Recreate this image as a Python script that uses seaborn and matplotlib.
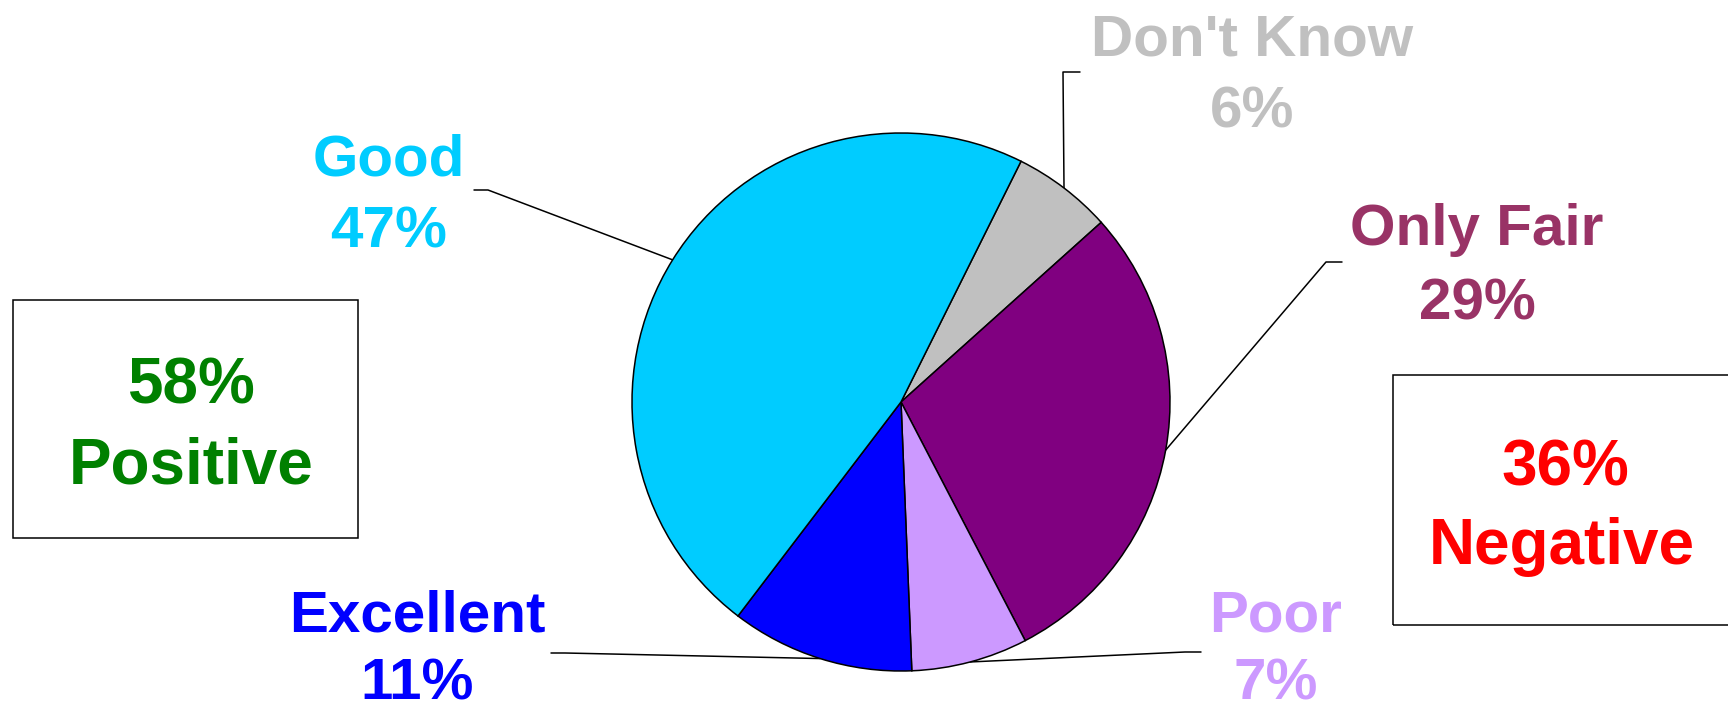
import numpy as np
import matplotlib
matplotlib.use("Agg")
import matplotlib.pyplot as plt
import seaborn as sns
from matplotlib.patches import Rectangle

# Data (clockwise from the top)
categories = ["Don't Know", "Only Fair", "Poor", "Excellent", "Good"]
shares = [6, 29, 7, 11, 47]
wedge_colors = ["#C0C0C0", "#800080", "#CC99FF", "#0000FF", "#00CCFF"]
label_colors = ["#C0C0C0", "#993366", "#CC99FF", "#0000FF", "#00CCFF"]
positive_share = 58
negative_share = 36

sns.set_theme(style="white")
plt.rcParams['font.family'] = ['Liberation Sans', 'DejaVu Sans']

W, H = 1728, 713
fig = plt.figure(figsize=(W / 100, H / 100), dpi=100)

# pie layout in pixels (top-left origin)
cx, cy, R = 901, 402, 269
L = 1.1
side = 2 * L * R
ax = fig.add_axes([(cx - side / 2) / W, (H - cy - side / 2) / H, side / W, side / H])

wedges, _ = ax.pie(shares, colors=sns.color_palette(wedge_colors), startangle=63.5,
                   counterclock=False, radius=1,
                   wedgeprops=dict(edgecolor="black", linewidth=1.1))
ax.set_xlim(-L, L)
ax.set_ylim(-L, L)
ax.set_aspect("equal")
ax.axis("off")


def to_data(px, py):
    return (px - cx) / R, (cy - py) / R


# label placement: (centre x, name baseline, pct baseline, elbow start, elbow end)
label_pos = {
    "Don't Know": (1252, 55, 127, (1080, 72), (1063, 72)),
    "Only Fair": (1477, 245, 320, (1342, 262), (1326, 262)),
    "Poor": (1276, 631, 700, (1201, 652), (1185, 652)),
    "Excellent": (417, 631, 700, (551, 653), (565, 653)),
    "Good": (389, 176, 248, (474, 190), (488, 190)),
}

for cat, share, w, col in zip(categories, shares, wedges, label_colors):
    x, y1, y2, e1, e2 = label_pos[cat]
    tx, ty1 = to_data(x, y1)
    _, ty2 = to_data(x, y2)
    ax.text(tx, ty1, cat, color=col, fontsize=42, fontweight="bold",
            ha="center", va="baseline", clip_on=False)
    ax.text(tx, ty2, f"{share}%", color=col, fontsize=42, fontweight="bold",
            ha="center", va="baseline", clip_on=False)
    # leader line from wedge middle to elbow
    mid = np.deg2rad((w.theta1 + w.theta2) / 2)
    ex, ey = np.cos(mid), np.sin(mid)
    ax1, ay1 = to_data(*e1)
    ax2, ay2 = to_data(*e2)
    ax.plot([ax1, ax2, ex], [ay1, ay2, ey], color="black", lw=1.1,
            clip_on=False, zorder=0)


def fig_xy(px, py):
    return px / W, 1 - py / H


# summary boxes
for (x0, y0, x1, y1) in [(13, 300, 358, 538), (1393, 375, 1740, 625)]:
    bx, by = fig_xy(x0, y1)
    fig.patches.append(Rectangle((bx, by), (x1 - x0) / W, (y1 - y0) / H,
                                 transform=fig.transFigure, fill=False,
                                 edgecolor="black", linewidth=1.1))

fig.text(*fig_xy(191, 404), f"{positive_share}%", color="#008000", fontsize=46,
         fontweight="bold", ha="center", va="baseline")
fig.text(*fig_xy(191, 483), "Positive", color="#008000", fontsize=46,
         fontweight="bold", ha="center", va="baseline")
fig.text(*fig_xy(1565, 485), f"{negative_share}%", color="#FF0000", fontsize=46,
         fontweight="bold", ha="center", va="baseline")
fig.text(*fig_xy(1562, 564), "Negative", color="#FF0000", fontsize=46,
         fontweight="bold", ha="center", va="baseline")

fig.savefig("out.png", dpi=100, facecolor="white")
